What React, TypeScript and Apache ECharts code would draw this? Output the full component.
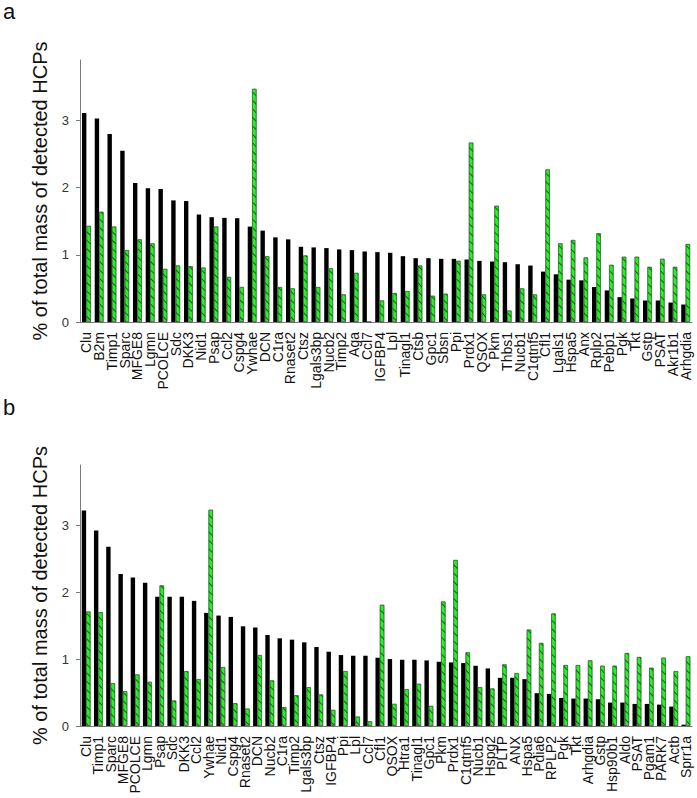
import React, { useEffect, useRef } from "react";
import * as echarts from "echarts";

const catsA = ["Clu","B2m","Timp1","Sparc","MFGE8","Lgmn","PCOLCE","Sdc","DKK3","Nid1","Psap","Ccl2","Cspg4","Ywhae","DCN","C1ra","Rnaset2","Ctsz","Lgals3bp","Nucb2","Timp2","Aga","Ccl7","IGFBP4","Lpl","Tinagl1","Ctsb","Gpc1","Sbsn","Ppi","Prdx1","QSOX","Pkm","Thbs1","Nucb1","C1qtnf5","Cfl1","Lgals1","Hspa5","Anx","Rplp2","Pebp1","Pgk","Tkt","Gstp","PSAT","Akr1b1","Arhgdia"];
const blackA = [3.11,3.03,2.80,2.55,2.07,1.99,1.98,1.81,1.80,1.60,1.56,1.55,1.545,1.42,1.36,1.26,1.23,1.12,1.11,1.10,1.08,1.07,1.05,1.04,1.03,0.98,0.95,0.95,0.94,0.94,0.93,0.91,0.90,0.89,0.86,0.84,0.75,0.71,0.63,0.62,0.52,0.47,0.37,0.35,0.32,0.32,0.29,0.26];
const greenA = [1.43,1.64,1.42,1.07,1.23,1.17,0.79,0.84,0.83,0.81,1.42,0.67,0.52,3.47,0.98,0.52,0.50,0.99,0.52,0.80,0.41,0.73,0,0.32,0.43,0.46,0.84,0.39,0.42,0.91,2.67,0.41,1.73,0.17,0.50,0.41,2.27,1.17,1.22,0.96,1.32,0.85,0.97,0.97,0.82,0.94,0.82,1.16];

const catsB = ["Clu","Timp1","Sparc","MFGE8","PCOLCE","Lgmn","Psap","Sdc","DKK3","Ccl2","Ywhae","Nid1","Cspg4","Rnaset2","DCN","Nucb2","C1ra","Timp2","Lgals3bp","Ctsz","IGFBP4","Ppi","Lpl","Ccl7","Cfl1","QSOX","Htra1","Tinagl1","Gpc1","Pkm","Prdx1","C1qtnf5","Nucb1","Hspg2","PLTP","ANX","Hspa5","Pdia6","RPLP2","Pgk","Tkt","Arhgdia","Gstp","Hsp90b1","Aldo","PSAT","Pgam1","PARK7","Actb","Sprr1a"];
const blackB = [3.22,2.92,2.68,2.27,2.22,2.14,1.93,1.93,1.93,1.87,1.69,1.65,1.63,1.49,1.47,1.36,1.31,1.29,1.25,1.18,1.11,1.06,1.05,1.05,1.02,1.00,0.99,0.99,0.98,0.96,0.95,0.94,0.90,0.86,0.72,0.72,0.70,0.49,0.48,0.42,0.41,0.41,0.40,0.35,0.35,0.33,0.33,0.32,0.29,0.02];
const greenB = [1.71,1.70,0.64,0.52,0.77,0.66,2.10,0.38,0.82,0.70,3.23,0.88,0.34,0.26,1.06,0.68,0.28,0.46,0.58,0.47,0.24,0.82,0.14,0.07,1.81,0.33,0.55,0.63,0.30,1.86,2.48,1.10,0.58,0.56,0.92,0.79,1.44,1.24,1.68,0.91,0.91,0.98,0.90,0.90,1.09,1.03,0.87,1.02,0.82,1.04];

const yTicks = [0, 1, 2, 3];
const yTitle = "% of total mass of detected HCPs";
const FONT = "Liberation Sans";

export default function App() {
  const ref = useRef<HTMLDivElement>(null);
  useEffect(() => {
    const chart = echarts.init(ref.current!, null, { renderer: "svg" });
    const xAxis = (idx: number, cats: string[]) => ({
      type: "category",
      gridIndex: idx,
      data: cats,
      axisLine: { lineStyle: { color: "#7a7a7a", width: 1 } },
      axisTick: { alignWithLabel: true, length: 3, lineStyle: { color: "#7a7a7a" } },
      axisLabel: { rotate: 90, interval: 0, fontSize: 14, color: "#111", fontFamily: FONT, margin: 10 },
    });
    const yAxis = (idx: number) => ({
      type: "value",
      gridIndex: idx,
      min: 0,
      max: 3.9,
      interval: 1,
      name: yTitle,
      nameLocation: "middle",
      nameGap: 30,
      nameTextStyle: { fontSize: 20, color: "#111", fontFamily: FONT },
      axisLine: { show: true, lineStyle: { color: "#7a7a7a", width: 1 } },
      axisTick: { show: true, length: 4, customValues: yTicks, lineStyle: { color: "#7a7a7a" } },
      axisLabel: { fontSize: 13, color: "#333", fontFamily: FONT, customValues: yTicks, margin: 11 },
      splitLine: { show: false },
    });
    const greenStyle = {
      color: "#14ff14",
      borderColor: "#555",
      borderWidth: 0.6,
      decal: {
        symbol: "rect",
        color: "rgba(0,40,0,0.7)",
        dashArrayX: [1, 0],
        dashArrayY: [1, 4.6],
        rotation: Math.PI / 4,
      },
    };
    const bars = (idx: number, b: number[], g: number[]) => [
      { type: "bar", xAxisIndex: idx, yAxisIndex: idx, data: b, barWidth: 4.4, barGap: "0%", itemStyle: { color: "#000" } },
      { type: "bar", xAxisIndex: idx, yAxisIndex: idx, data: g, barWidth: 4.4, barGap: "0%", itemStyle: greenStyle },
    ];
    chart.setOption({
      animation: false,
      backgroundColor: "#fff",
      grid: [
        { left: 80, right: 5, top: 60, bottom: 476 },
        { left: 80, right: 5, top: 465, bottom: 72 },
      ],
      xAxis: [xAxis(0, catsA), xAxis(1, catsB)],
      yAxis: [yAxis(0), yAxis(1)],
      series: [...bars(0, blackA, greenA), ...bars(1, blackB, greenB)],
      graphic: [
        { type: "text", left: 3, top: 0, style: { text: "a", fontSize: 22, fill: "#111", fontFamily: FONT } },
        { type: "text", left: 3, top: 396, style: { text: "b", fontSize: 22, fill: "#111", fontFamily: FONT } },
      ],
    });
    return () => chart.dispose();
  }, []);
  return <div ref={ref} style={{ position: "fixed", left: 0, top: 0, width: 697, height: 798, background: "#fff" }} />;
}
